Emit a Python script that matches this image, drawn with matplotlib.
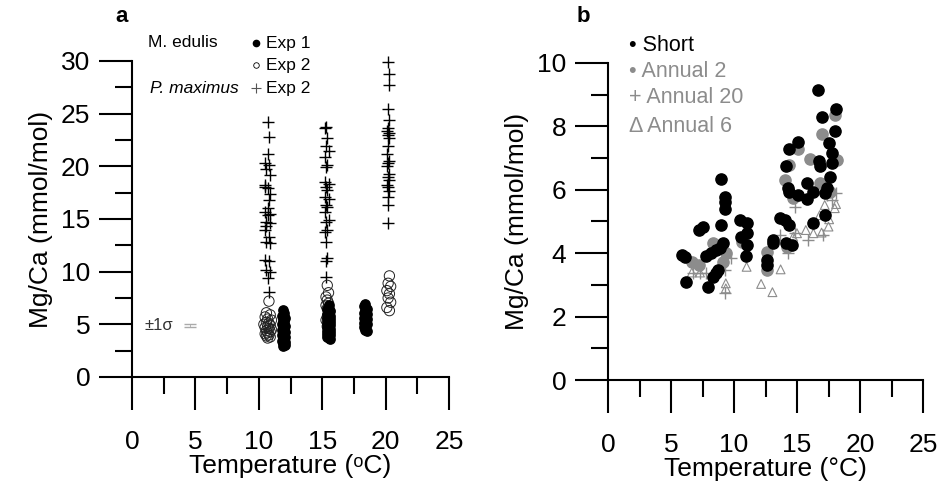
import matplotlib
matplotlib.use("Agg")
import matplotlib.pyplot as plt
from matplotlib.ticker import MultipleLocator

plt.rcParams['font.family'] = ['Liberation Sans', 'DejaVu Sans']

# %% panel a data: M. edulis exp 1 (filled), M. edulis exp 2 (open), P. maximus exp 2 (crosses)
edulis_exp1_t = [11.9, 12.0, 11.8, 12.1, 11.9, 12.0, 11.8, 11.9, 12.1, 12.0, 11.9, 11.8, 12.0, 12.1,
                 11.9, 12.0, 11.8, 11.9, 12.1, 12.0, 11.9, 12.0, 11.8, 12.1, 11.9, 12.0, 12.1, 11.9,
                 15.5, 15.4, 15.6, 15.5, 15.4, 15.6, 15.5, 15.4, 15.6, 15.5, 15.4, 15.6, 15.5, 15.4,
                 15.6, 15.5, 15.4, 15.6, 15.5, 15.4, 15.6, 15.5, 15.4, 15.6, 15.5, 15.4, 15.5, 15.6,
                 18.4, 18.3, 18.5, 18.4, 18.3, 18.5, 18.4, 18.3, 18.5, 18.4, 18.3, 18.5, 18.4, 18.3, 18.4, 18.5]
edulis_exp1_mg = [6.4, 6.1, 5.8, 5.6, 5.4, 5.2, 5.0, 4.9, 4.8, 4.7, 4.6, 4.5, 4.4, 4.3,
                  4.2, 4.1, 4.0, 3.9, 3.8, 3.7, 3.6, 3.5, 3.4, 3.3, 3.2, 3.1, 3.0, 2.9,
                  6.8, 6.5, 6.3, 6.1, 6.0, 5.8, 5.7, 5.6, 5.5, 5.4, 5.3, 5.2, 5.1, 5.0,
                  4.9, 4.8, 4.7, 4.6, 4.5, 4.4, 4.3, 4.2, 4.1, 4.0, 3.9, 3.8, 3.7, 3.6,
                  6.9, 6.7, 6.5, 6.3, 6.1, 6.0, 5.8, 5.6, 5.5, 5.3, 5.1, 5.0, 4.8, 4.7, 4.5, 4.4]

edulis_exp2_t = [10.8, 10.6, 10.9, 10.5, 10.7, 11.0, 10.6, 10.8, 10.4, 10.9, 10.7, 10.5, 10.8, 11.0,
                 10.6, 10.9, 10.7, 10.5, 10.8, 10.6, 10.9, 10.7,
                 15.4, 15.5, 15.3, 15.4, 15.5, 15.3, 15.4, 15.6, 15.5, 15.4, 15.3, 15.5, 15.4,
                 20.3, 20.2, 20.4, 20.1, 20.3, 20.2, 20.4, 20.1, 20.3]
edulis_exp2_mg = [7.2, 6.1, 5.9, 5.7, 5.5, 5.4, 5.2, 5.1, 5.0, 4.9, 4.8, 4.7, 4.6, 4.5,
                  4.4, 4.3, 4.2, 4.1, 4.0, 3.9, 3.8, 3.7,
                  8.7, 8.0, 7.6, 7.3, 7.0, 6.8, 6.5, 6.3, 6.0, 5.7, 5.4, 5.1, 4.8,
                  9.6, 8.9, 8.6, 8.2, 7.9, 7.5, 7.1, 6.6, 6.3]

maximus_t = [10.7, 10.8, 10.7, 10.5, 10.8, 10.6, 10.9, 10.5, 10.7, 10.9, 10.8, 10.5, 10.7, 10.6,
             10.9, 10.5, 10.8, 10.6, 10.9, 10.5, 10.8, 10.6, 10.9, 10.7, 10.8, 10.5, 10.9, 10.6, 10.7,
             15.3, 15.2, 15.4, 15.3, 15.5, 15.2, 15.4, 15.3, 15.2, 15.5, 15.3, 15.4, 15.2, 15.5,
             15.3, 15.4, 15.2, 15.5, 15.3, 15.4, 15.2, 15.3, 15.4, 15.3, 15.3,
             20.2, 20.3, 20.3, 20.2, 20.3, 20.2, 20.1, 20.3, 20.2, 20.3, 20.2, 20.1, 20.3, 20.2,
             20.1, 20.3, 20.2, 20.3, 20.1, 20.2, 20.3, 20.2, 20.2, 20.2]
maximus_mg = [24.2, 22.8, 21.2, 20.3, 20.1, 19.7, 19.2, 18.2, 17.9, 17.4, 16.8, 15.7, 15.4, 14.7,
              14.6, 14.0, 13.3, 12.8, 12.7, 11.1, 11.0, 10.2, 10.0, 9.4, 8.1, 18.0, 15.5, 14.3, 16.0,
              23.7, 23.6, 22.7, 21.9, 21.5, 20.9, 20.1, 19.9, 18.5, 18.3, 18.0, 17.8, 17.1, 16.9,
              16.3, 16.1, 15.7, 14.9, 14.7, 14.0, 13.8, 12.8, 11.3, 11.0, 9.5,
              29.9, 28.8, 27.7, 25.4, 24.4, 23.6, 23.4, 23.2, 23.0, 22.7, 21.9, 21.2, 20.5, 20.3,
              20.0, 19.3, 19.0, 18.7, 18.2, 18.0, 17.7, 17.1, 16.3, 14.6]

# %% panel b data
short_t = [16.7, 18.1, 17.0, 18.0, 17.5, 15.1, 14.4, 17.75, 16.75, 14.1, 16.8, 17.75, 17.6, 15.8,
           14.3, 14.4, 16.3, 15.1, 17.35, 17.2, 15.8, 9.0, 9.3, 9.3, 9.3, 9.0, 7.5, 7.25, 10.5,
           11.05, 11.05, 10.55, 11.0, 10.95, 9.15, 8.9, 8.6, 8.2, 7.8, 5.85, 6.1, 8.75, 8.6, 8.35,
           6.2, 7.95, 13.65, 14.05, 14.4, 13.1, 13.1, 14.1, 14.6, 12.6, 12.6, 16.25, 17.2]
short_mg = [9.15, 8.54, 8.31, 7.86, 7.47, 7.51, 7.28, 7.17, 6.92, 6.75, 6.75, 6.83, 6.41, 6.2,
            6.05, 5.94, 5.94, 5.84, 6.05, 5.89, 5.70, 6.34, 5.76, 5.62, 5.38, 4.89, 4.84, 4.73, 5.05,
            4.96, 4.63, 4.52, 4.26, 3.91, 4.31, 4.15, 4.1, 4.0, 3.91, 3.94, 3.89, 3.47, 3.37, 3.26,
            3.1, 2.94, 5.1, 5.05, 4.89, 4.42, 4.31, 4.33, 4.26, 3.79, 3.63, 4.96, 5.2]

annual2_t = [18.0, 16.95, 15.05, 16.0, 18.15, 14.4, 14.05, 16.8, 14.7, 17.6, 8.3, 10.6, 6.7,
             7.25, 9.35, 9.1, 12.65, 12.65, 14.2]
annual2_mg = [8.36, 7.76, 7.28, 6.96, 6.94, 6.78, 6.31, 6.2, 5.73, 5.94, 4.31, 4.36, 3.73,
              3.63, 4.0, 3.73, 4.05, 3.47, 4.2]

annual20_t = [14.85, 18.1, 17.75, 13.65, 14.3, 15.9, 9.8, 9.3, 7.8, 7.3, 6.75, 9.3, 17.1, 14.85, 17.35]
annual20_mg = [5.47, 5.89, 5.68, 4.57, 4.0, 4.42, 3.84, 3.47, 3.37, 3.37, 3.37, 2.73, 4.57, 4.63, 5.84]

annual6_t = [6.65, 7.3, 11.0, 9.35, 9.35, 12.15, 13.05, 13.7, 15.0, 15.7, 16.3, 16.95, 17.5,
             16.8, 17.55, 18.0, 18.1, 17.2, 14.7]
annual6_mg = [3.39, 3.39, 3.57, 3.05, 2.89, 3.03, 2.77, 3.49, 4.63, 4.73, 4.63, 4.65, 4.84,
              5.2, 5.07, 5.42, 5.55, 5.52, 4.52]

gray = "#8c8c8c"
fs = 19

# %%
fig = plt.figure(figsize=(9.41, 4.91), dpi=100)
ax_a = fig.add_axes([132/941, 1-377/491, (449-132)/941, (377-61)/491])
ax_b = fig.add_axes([608/941, 1-380/491, (923-608)/941, (380-63)/491])

def style_axis(ax, ymaj, ymin, ymax):
    ax.set_xlim(0, 25)
    ax.set_ylim(0, ymax)
    for s in ["top", "right"]:
        ax.spines[s].set_visible(False)
    for s in ["left", "bottom"]:
        ax.spines[s].set_linewidth(1.5)
    ax.xaxis.set_major_locator(MultipleLocator(5))
    ax.xaxis.set_minor_locator(MultipleLocator(2.5))
    ax.yaxis.set_major_locator(MultipleLocator(ymaj))
    ax.yaxis.set_minor_locator(MultipleLocator(ymin))
    ax.tick_params(which="major", direction="out", length=24, width=1.5, labelsize=fs)
    ax.tick_params(which="minor", direction="out", length=12, width=1.5)
    ax.tick_params(axis="x", which="major", pad=14)
    ax.tick_params(axis="y", which="major", pad=6)
    ax.set_ylabel("Mg/Ca (mmol/mol)", fontsize=fs, labelpad=6)

# panel a
ax = ax_a
ax.scatter(maximus_t, maximus_mg, marker="+", s=70, c="black", linewidths=1.0, clip_on=False)
ax.scatter(edulis_exp2_t, edulis_exp2_mg, marker="o", s=55, facecolors="none", edgecolors="#222222",
           linewidths=0.7, clip_on=False)
ax.scatter(edulis_exp1_t, edulis_exp1_mg, marker="o", s=45, c="black", edgecolors="black", clip_on=False)
ax.errorbar([4.6], [4.9], yerr=[0.12], fmt="none", ecolor="#aaaaaa", capsize=4, elinewidth=0.6, capthick=1)
ax.text(1.0, 4.9, "\u00b11\u03c3", fontsize=12, va="center", ha="left", color="#333333")
style_axis(ax, 5, 2.5, 30)
ax.set_xlabel("Temperature (\u1d52C)", fontsize=fs, labelpad=0)

ax.text(1.26, 31.8, "M. edulis", fontsize=12.5, va="center", ha="left")
ax.text(1.4, 27.4, "P. maximus", fontsize=12.5, va="center", ha="left", style="italic")
ax.plot([9.8], [31.7], "o", ms=4.5, color="black", clip_on=False)
ax.plot([9.8], [29.6], "o", ms=4, mfc="none", mec="black", mew=0.6, clip_on=False)
ax.plot([9.8], [27.4], "+", ms=7, color="#555555", mew=0.8, clip_on=False)
for yy, lab in [(31.7, "Exp 1"), (29.6, "Exp 2"), (27.4, "Exp 2")]:
    ax.text(10.6, yy, lab, fontsize=12.5, va="center", ha="left")

# panel b
ax = ax_b
ax.scatter(annual6_t, annual6_mg, marker="^", s=40, facecolors="none", edgecolors=gray, linewidths=0.8)
ax.scatter(annual20_t, annual20_mg, marker="+", s=80, c=gray, linewidths=1.0)
ax.scatter(annual2_t, annual2_mg, marker="o", s=65, c=gray, edgecolors=gray)
ax.scatter(short_t, short_mg, marker="o", s=65, c="black", edgecolors="black")
style_axis(ax, 2, 1, 10)
ax.set_xlabel("Temperature (\u00b0C)", fontsize=fs, labelpad=0)

for yy, lab, col in [(10.54, "\u2022 Short", "black"), (9.72, "\u2022 Annual 2", gray),
                     (8.9, "+ Annual 20", gray), (8.01, "\u0394 Annual 6", gray)]:
    ax.text(1.7, yy, lab, fontsize=15.5, va="center", ha="left", color=col)

fig.text(115/941, 1-17/491, "a", fontsize=16, fontweight="bold", va="center", ha="left")
fig.text(577/941, 1-17/491, "b", fontsize=16, fontweight="bold", va="center", ha="left")

fig.savefig("out.png", dpi=100)
